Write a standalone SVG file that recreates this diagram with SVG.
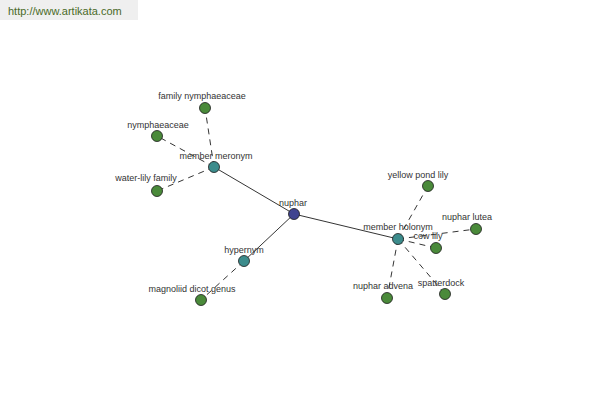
<svg xmlns="http://www.w3.org/2000/svg" width="600" height="400" viewBox="0 0 600 400">
<style>
.lbl{font-family:"Liberation Sans",Arial,sans-serif;font-size:9px;fill:#333;text-anchor:middle}
.solid{stroke:#000;stroke-width:0.8;fill:none}
.dash{stroke:#000;stroke-width:0.8;fill:none;stroke-dasharray:6,5}
.n{stroke:#1a1a1a;stroke-width:0.8}
.root{fill:#3f4490}
.hub{fill:#3c8c8c}
.leaf{fill:#4a8a3a}
</style>
<rect x="0" y="0" width="138" height="20" fill="#efefef"/>
<text x="8" y="15" font-family="Liberation Sans,Arial,sans-serif" font-size="11" fill="#4a6a28">http://www.artikata.com</text>
<g id="connectors">
<line class="solid" x1="294" y1="214" x2="214" y2="167"/>
<line class="solid" x1="294" y1="214" x2="244" y2="261"/>
<line class="solid" x1="294" y1="214" x2="398" y2="239"/>
<line class="dash" x1="214" y1="167" x2="205" y2="108"/>
<line class="dash" x1="214" y1="167" x2="157" y2="136"/>
<line class="dash" x1="214" y1="167" x2="157" y2="191"/>
<line class="dash" x1="244" y1="261" x2="201" y2="300"/>
<line class="dash" x1="398" y1="239" x2="428" y2="186"/>
<line class="dash" x1="398" y1="239" x2="476" y2="229"/>
<line class="dash" x1="398" y1="239" x2="436" y2="248"/>
<line class="dash" x1="398" y1="239" x2="387" y2="298"/>
<line class="dash" x1="398" y1="239" x2="445" y2="294"/>
</g>
<g id="nuphar"><circle class="n root" cx="294" cy="214" r="5.5"/><text class="lbl" x="293" y="206">nuphar</text></g>
<g id="member-meronym"><circle class="n hub" cx="214" cy="167" r="5.5"/><text class="lbl" x="216" y="159">member meronym</text></g>
<g id="hypernym"><circle class="n hub" cx="244" cy="261" r="5.5"/><text class="lbl" x="244" y="253">hypernym</text></g>
<g id="member-holonym"><circle class="n hub" cx="398" cy="239" r="5.5"/><text class="lbl" x="398" y="230">member holonym</text></g>
<g id="family-nymphaeaceae"><circle class="n leaf" cx="205" cy="108" r="5.5"/><text class="lbl" x="202" y="99">family nymphaeaceae</text></g>
<g id="nymphaeaceae"><circle class="n leaf" cx="157" cy="136" r="5.5"/><text class="lbl" x="158" y="128">nymphaeaceae</text></g>
<g id="water-lily-family"><circle class="n leaf" cx="157" cy="191" r="5.5"/><text class="lbl" x="146" y="181">water-lily family</text></g>
<g id="magnoliid-dicot-genus"><circle class="n leaf" cx="201" cy="300" r="5.5"/><text class="lbl" x="192" y="292">magnoliid dicot genus</text></g>
<g id="yellow-pond-lily"><circle class="n leaf" cx="428" cy="186" r="5.5"/><text class="lbl" x="418" y="178">yellow pond lily</text></g>
<g id="nuphar-lutea"><circle class="n leaf" cx="476" cy="229" r="5.5"/><text class="lbl" x="467" y="220">nuphar lutea</text></g>
<g id="cow-lily"><circle class="n leaf" cx="436" cy="248" r="5.5"/><text class="lbl" x="428" y="239">cow lily</text></g>
<g id="nuphar-advena"><circle class="n leaf" cx="387" cy="298" r="5.5"/><text class="lbl" x="383" y="289">nuphar advena</text></g>
<g id="spatterdock"><circle class="n leaf" cx="445" cy="294" r="5.5"/><text class="lbl" x="441" y="286">spatterdock</text></g>
</svg>
